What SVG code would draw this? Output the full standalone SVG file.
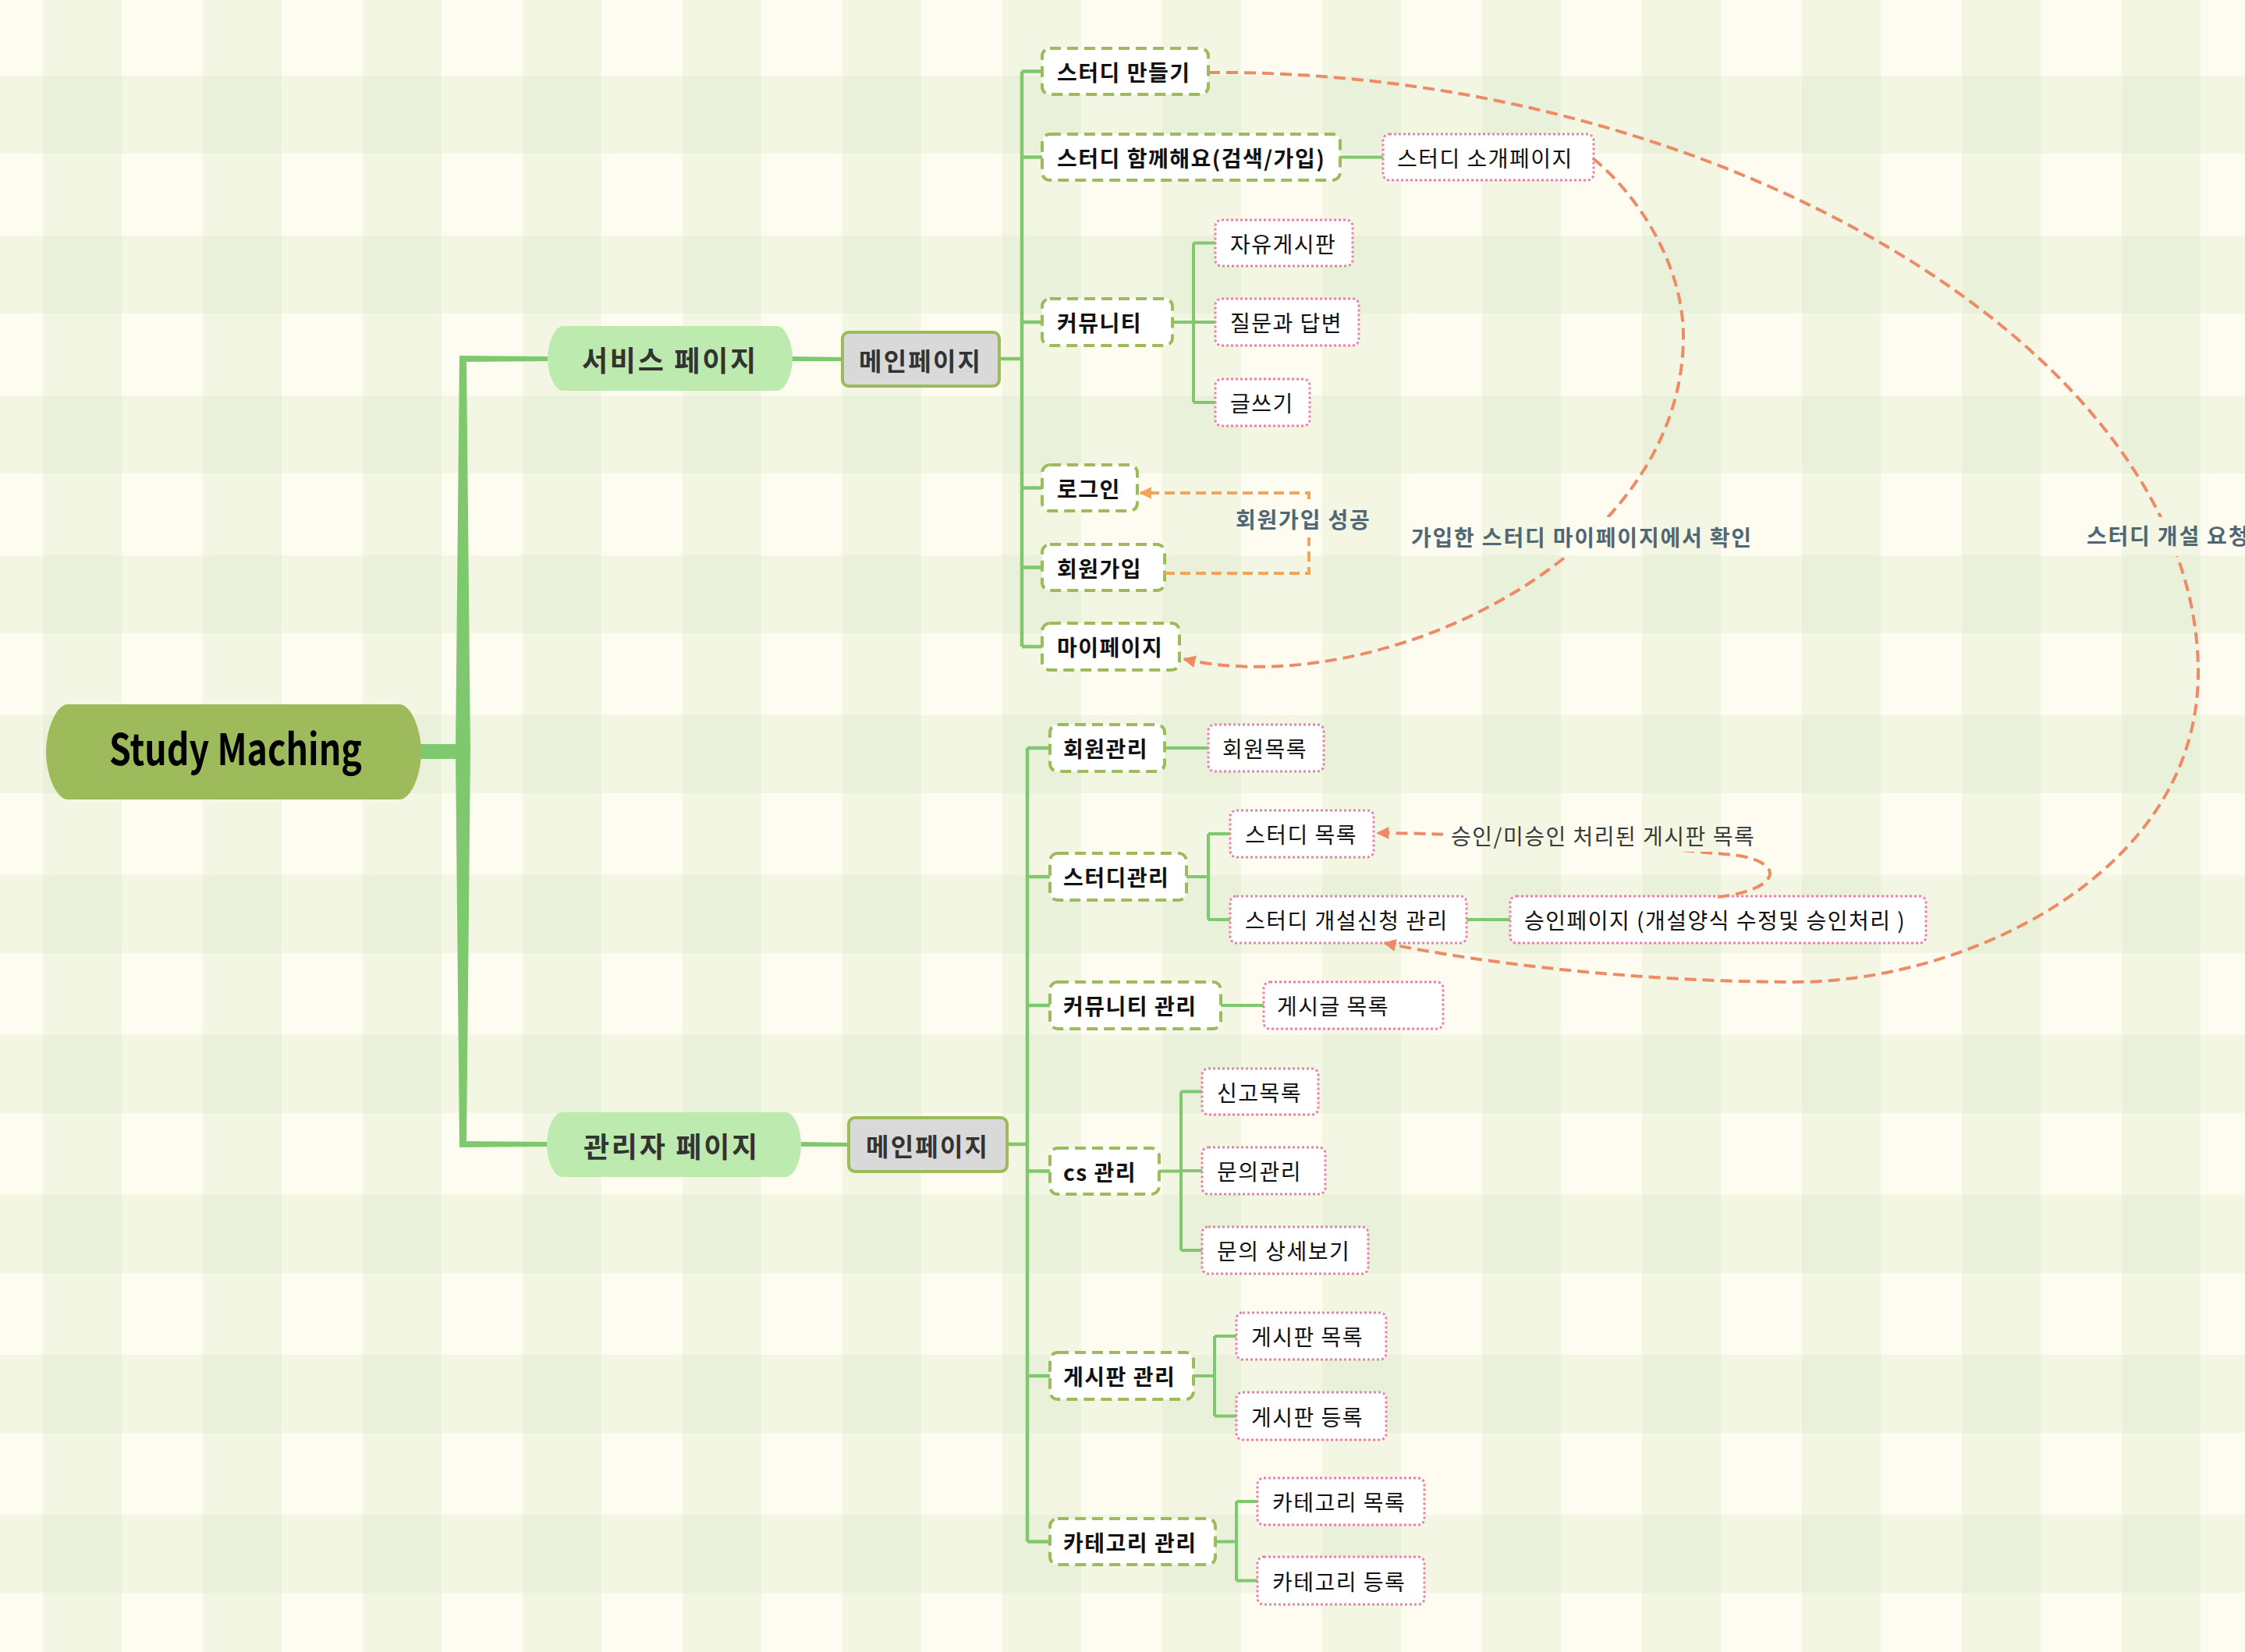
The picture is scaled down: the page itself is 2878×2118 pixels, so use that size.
<svg xmlns="http://www.w3.org/2000/svg" width="2878" height="2118" viewBox="0 0 2878 2118">
<defs>
<pattern id="bg" x="55" y="97" width="205" height="205" patternUnits="userSpaceOnUse">
<rect width="205" height="205" fill="#fefcf0"/>
<rect width="101" height="205" fill="#f4f6e4"/>
<rect width="205" height="100" fill="#f3f6e3"/>
<rect width="101" height="100" fill="#eaf1db"/>
</pattern>
<marker id="arr" viewBox="0 0 10 10" refX="9" refY="5" markerWidth="4.5" markerHeight="4" orient="auto" markerUnits="strokeWidth">
<path d="M0,0 L10,5 L0,10 Z" fill="#ee8a66"/>
</marker>
<marker id="arr2" viewBox="0 0 10 10" refX="9" refY="5" markerWidth="4" markerHeight="4" orient="auto" markerUnits="strokeWidth">
<path d="M0,0 L10,5 L0,10 Z" fill="#f5a35a"/>
</marker>
<mask id="lblmask" maskUnits="userSpaceOnUse" x="0" y="0" width="2878" height="2118">
<rect width="2878" height="2118" fill="#fff"/>
<rect x="1575" y="643" width="192" height="46" fill="#000"/>
<rect x="1800" y="663" width="458" height="50" fill="#000"/>
<rect x="2665" y="663" width="213" height="50" fill="#000"/>
<rect x="1850" y="1050" width="408" height="42" fill="#000"/>
</mask>
<style>
.l3 rect{fill:#fff;stroke:#9dbb5a;stroke-width:4;stroke-dasharray:14 8}
.l4 rect{fill:#fff;stroke:#e883a8;stroke-width:3;stroke-dasharray:3 3}
.l3 text,.l4 text{font-family:"Noto Sans CJK KR","Noto Sans",sans-serif;font-size:28px;dominant-baseline:central;fill:#111;letter-spacing:1.5px}
.l3 text{font-weight:700}
.l4 text{font-weight:400}
.mp rect{fill:#d9d9d9;stroke:#9dbb5a;stroke-width:4}
.mp text,.l1 text{font-family:"Noto Sans CJK KR","Noto Sans",sans-serif;font-weight:700;dominant-baseline:central;fill:#333}
.mp text{font-size:32px;letter-spacing:2.2px}
.l1 text{font-size:36px;letter-spacing:2.7px}
.l1 path{fill:#bdeaae}
.br{stroke:#7ec86e;stroke-width:4.5;fill:none}
.br4{stroke:#7ec86e;stroke-width:4;fill:none}
.rel{fill:none;stroke:#ee8a66;stroke-width:4;stroke-dasharray:15 8}
.lbl{font-family:"Noto Sans CJK KR","Noto Sans",sans-serif;font-size:28px;font-weight:700;fill:#506874;dominant-baseline:central;letter-spacing:1.8px}
</style>
</defs>
<rect width="2878" height="2118" fill="url(#bg)"/>

<g id="connectors">
<polygon points="589,456 598,456 603,963 598,1471 589,1471 584,963" fill="#7ec86e"/>
<rect x="538" y="954" width="52" height="19" fill="#7ec86e"/>
<polygon points="590,456 702,457 702,463 590,464" fill="#7ec86e"/>
<polygon points="590,1463 701,1464 701,1470 590,1471" fill="#7ec86e"/>
<polygon points="1016,457 1080,458 1080,463 1016,463" fill="#7ec86e"/>
<polygon points="1027,1464 1088,1465 1088,1470 1027,1470" fill="#7ec86e"/>
<path class="br" d="M1281,460 H1310 M1310,91.5 V829 M1310,91.5 H1336 M1310,201.5 H1336 M1310,413 H1336 M1310,625.5 H1336 M1310,727.5 H1336 M1310,829 H1336"/>
<path class="br4" d="M1718,201.5 H1773 M1503,413 H1530 M1530,311.5 V516 M1530,311.5 H1558 M1530,413 H1558 M1530,516 H1558"/>
<path class="br" d="M1291,1467 H1317 M1317,959 V1976.5 M1317,959 H1346 M1317,1124 H1346 M1317,1289 H1346 M1317,1501.5 H1346 M1317,1764 H1346 M1317,1976.5 H1346"/>
<path class="br4" d="M1493,959 H1549 M1521,1124 H1549 M1549,1069 V1179 M1549,1069 H1577 M1549,1179 H1577 M1880,1179 H1936 M1565,1289 H1620 M1486,1501.5 H1514 M1514,1399.5 V1603 M1514,1399.5 H1541 M1514,1501 H1541 M1514,1603 H1541 M1530,1764 H1557 M1557,1713 V1815.5 M1557,1713 H1585 M1557,1815.5 H1585 M1558,1976.5 H1585 M1585,1925 V2026.5 M1585,1925 H1612 M1585,2026.5 H1612"/>
</g>

<g id="root">
<path d="M87,903 H512 C527,903 540,935 540,964 C540,993 527,1025 512,1025 H87 C72,1025 59,993 59,964 C59,935 72,903 87,903 Z" fill="#9dbb5a"/>
<text x="140" y="981" font-family="Noto Sans CJK KR, Noto Sans, sans-serif" font-size="55" font-weight="700" fill="#000" textLength="324" lengthAdjust="spacingAndGlyphs">Study Maching</text>
</g>

<g id="service" class="l1">
<path d="M722,418 H996 C1007,418 1016,440 1016,459.5 C1016,479 1007,501 996,501 H722 C711,501 702,479 702,459.5 C702,440 711,418 722,418 Z"/>
<text x="746" y="460">서비스 페이지</text>
</g>
<g id="admin" class="l1">
<path d="M721,1426 H1007 C1018,1426 1027,1447 1027,1467.5 C1027,1488 1018,1509 1007,1509 H721 C710,1509 701,1488 701,1467.5 C701,1447 710,1426 721,1426 Z"/>
<text x="748" y="1468">관리자 페이지</text>
</g>
<g id="svc-main" class="mp"><rect x="1080" y="426" width="201" height="69" rx="8"/><text x="1101" y="461">메인페이지</text></g>
<g id="adm-main" class="mp"><rect x="1088" y="1433" width="203" height="69" rx="8"/><text x="1110" y="1468">메인페이지</text></g>

<g id="s-make" class="l3"><rect x="1336" y="62" width="213" height="59" rx="10"/><text x="1355" y="91.5">스터디 만들기</text></g>
<g id="s-join" class="l3"><rect x="1336" y="172" width="382" height="59" rx="10"/><text x="1355" y="201.5">스터디 함께해요(검색/가입)</text></g>
<g id="s-comm" class="l3"><rect x="1336" y="383" width="167" height="60" rx="10"/><text x="1355" y="413">커뮤니티</text></g>
<g id="s-login" class="l3"><rect x="1336" y="596" width="122" height="59" rx="10"/><text x="1355" y="625.5">로그인</text></g>
<g id="s-signup" class="l3"><rect x="1336" y="698" width="157" height="59" rx="10"/><text x="1355" y="727.5">회원가입</text></g>
<g id="s-mypage" class="l3"><rect x="1336" y="799" width="176" height="60" rx="10"/><text x="1355" y="829">마이페이지</text></g>

<g id="s-intro" class="l4"><rect x="1773" y="172" width="270" height="59" rx="8"/><text x="1791" y="201.5">스터디 소개페이지</text></g>
<g id="s-free" class="l4"><rect x="1558" y="282" width="176" height="59" rx="8"/><text x="1577" y="311.5">자유게시판</text></g>
<g id="s-qna" class="l4"><rect x="1558" y="383" width="184" height="60" rx="8"/><text x="1577" y="413">질문과 답변</text></g>
<g id="s-write" class="l4"><rect x="1558" y="486" width="121" height="60" rx="8"/><text x="1577" y="516">글쓰기</text></g>

<g id="a-member" class="l3"><rect x="1346" y="929" width="147" height="60" rx="10"/><text x="1363" y="959">회원관리</text></g>
<g id="a-study" class="l3"><rect x="1346" y="1094" width="175" height="60" rx="10"/><text x="1363" y="1124">스터디관리</text></g>
<g id="a-comm" class="l3"><rect x="1346" y="1259" width="219" height="60" rx="10"/><text x="1363" y="1289">커뮤니티 관리</text></g>
<g id="a-cs" class="l3"><rect x="1346" y="1472" width="140" height="59" rx="10"/><text x="1363" y="1501.5">cs 관리</text></g>
<g id="a-board" class="l3"><rect x="1346" y="1734" width="184" height="60" rx="10"/><text x="1363" y="1764">게시판 관리</text></g>
<g id="a-cat" class="l3"><rect x="1346" y="1947" width="212" height="59" rx="10"/><text x="1363" y="1976.5">카테고리 관리</text></g>

<g id="a-memberlist" class="l4"><rect x="1549" y="929" width="148" height="60" rx="8"/><text x="1567" y="959">회원목록</text></g>
<g id="a-studylist" class="l4"><rect x="1577" y="1039" width="184" height="60" rx="8"/><text x="1596" y="1069">스터디 목록</text></g>
<g id="a-studyreq" class="l4"><rect x="1577" y="1149" width="303" height="60" rx="8"/><text x="1596" y="1179">스터디 개설신청 관리</text></g>
<g id="a-approve" class="l4"><rect x="1936" y="1149" width="533" height="60" rx="8"/><text x="1954" y="1179">승인페이지 (개설양식 수정및 승인처리 )</text></g>
<g id="a-postlist" class="l4"><rect x="1620" y="1259" width="230" height="60" rx="8"/><text x="1637" y="1289">게시글 목록</text></g>
<g id="a-report" class="l4"><rect x="1541" y="1370" width="149" height="59" rx="8"/><text x="1560" y="1399.5">신고목록</text></g>
<g id="a-inq" class="l4"><rect x="1541" y="1471" width="158" height="60" rx="8"/><text x="1560" y="1501">문의관리</text></g>
<g id="a-inqdet" class="l4"><rect x="1541" y="1573" width="213" height="60" rx="8"/><text x="1560" y="1603">문의 상세보기</text></g>
<g id="a-boardlist" class="l4"><rect x="1585" y="1683" width="192" height="60" rx="8"/><text x="1604" y="1713">게시판 목록</text></g>
<g id="a-boardreg" class="l4"><rect x="1585" y="1785" width="192" height="61" rx="8"/><text x="1604" y="1815.5">게시판 등록</text></g>
<g id="a-catlist" class="l4"><rect x="1612" y="1895" width="214" height="60" rx="8"/><text x="1631" y="1925">카테고리 목록</text></g>
<g id="a-catreg" class="l4"><rect x="1612" y="1996" width="214" height="61" rx="8"/><text x="1631" y="2026.5">카테고리 등록</text></g>

<g id="relations">
<g mask="url(#lblmask)">
<path class="rel" d="M1549,93 C2200,88 2818,450 2818,862 C2818,1120 2520,1259 2301,1259 C2100,1259 1900,1235 1775,1209" marker-end="url(#arr)"/>
<path class="rel" d="M2042,203 C2100,250 2158,340 2158,431 C2158,720 1760,900 1518,845" marker-end="url(#arr)"/>
<path class="rel" d="M2202,1150 C2290,1140 2290,1100 2210,1095 C2100,1085 1900,1068 1766,1068" marker-end="url(#arr)"/>
<path d="M1493,735 H1678 V632 H1462" fill="none" stroke="#f5a35a" stroke-width="4" stroke-dasharray="13 7" marker-end="url(#arr2)"/>
</g>
<text class="lbl" x="1584" y="665">회원가입 성공</text>
<text class="lbl" x="1809" y="688">가입한 스터디 마이페이지에서 확인</text>
<text class="lbl" x="2675" y="686">스터디 개설 요청</text>
<text x="1860" y="1071" font-family="Noto Sans CJK KR, Noto Sans, sans-serif" font-size="28" fill="#3a3a3a" dominant-baseline="central" letter-spacing="1.5">승인/미승인 처리된 게시판 목록</text>
</g>
</svg>
